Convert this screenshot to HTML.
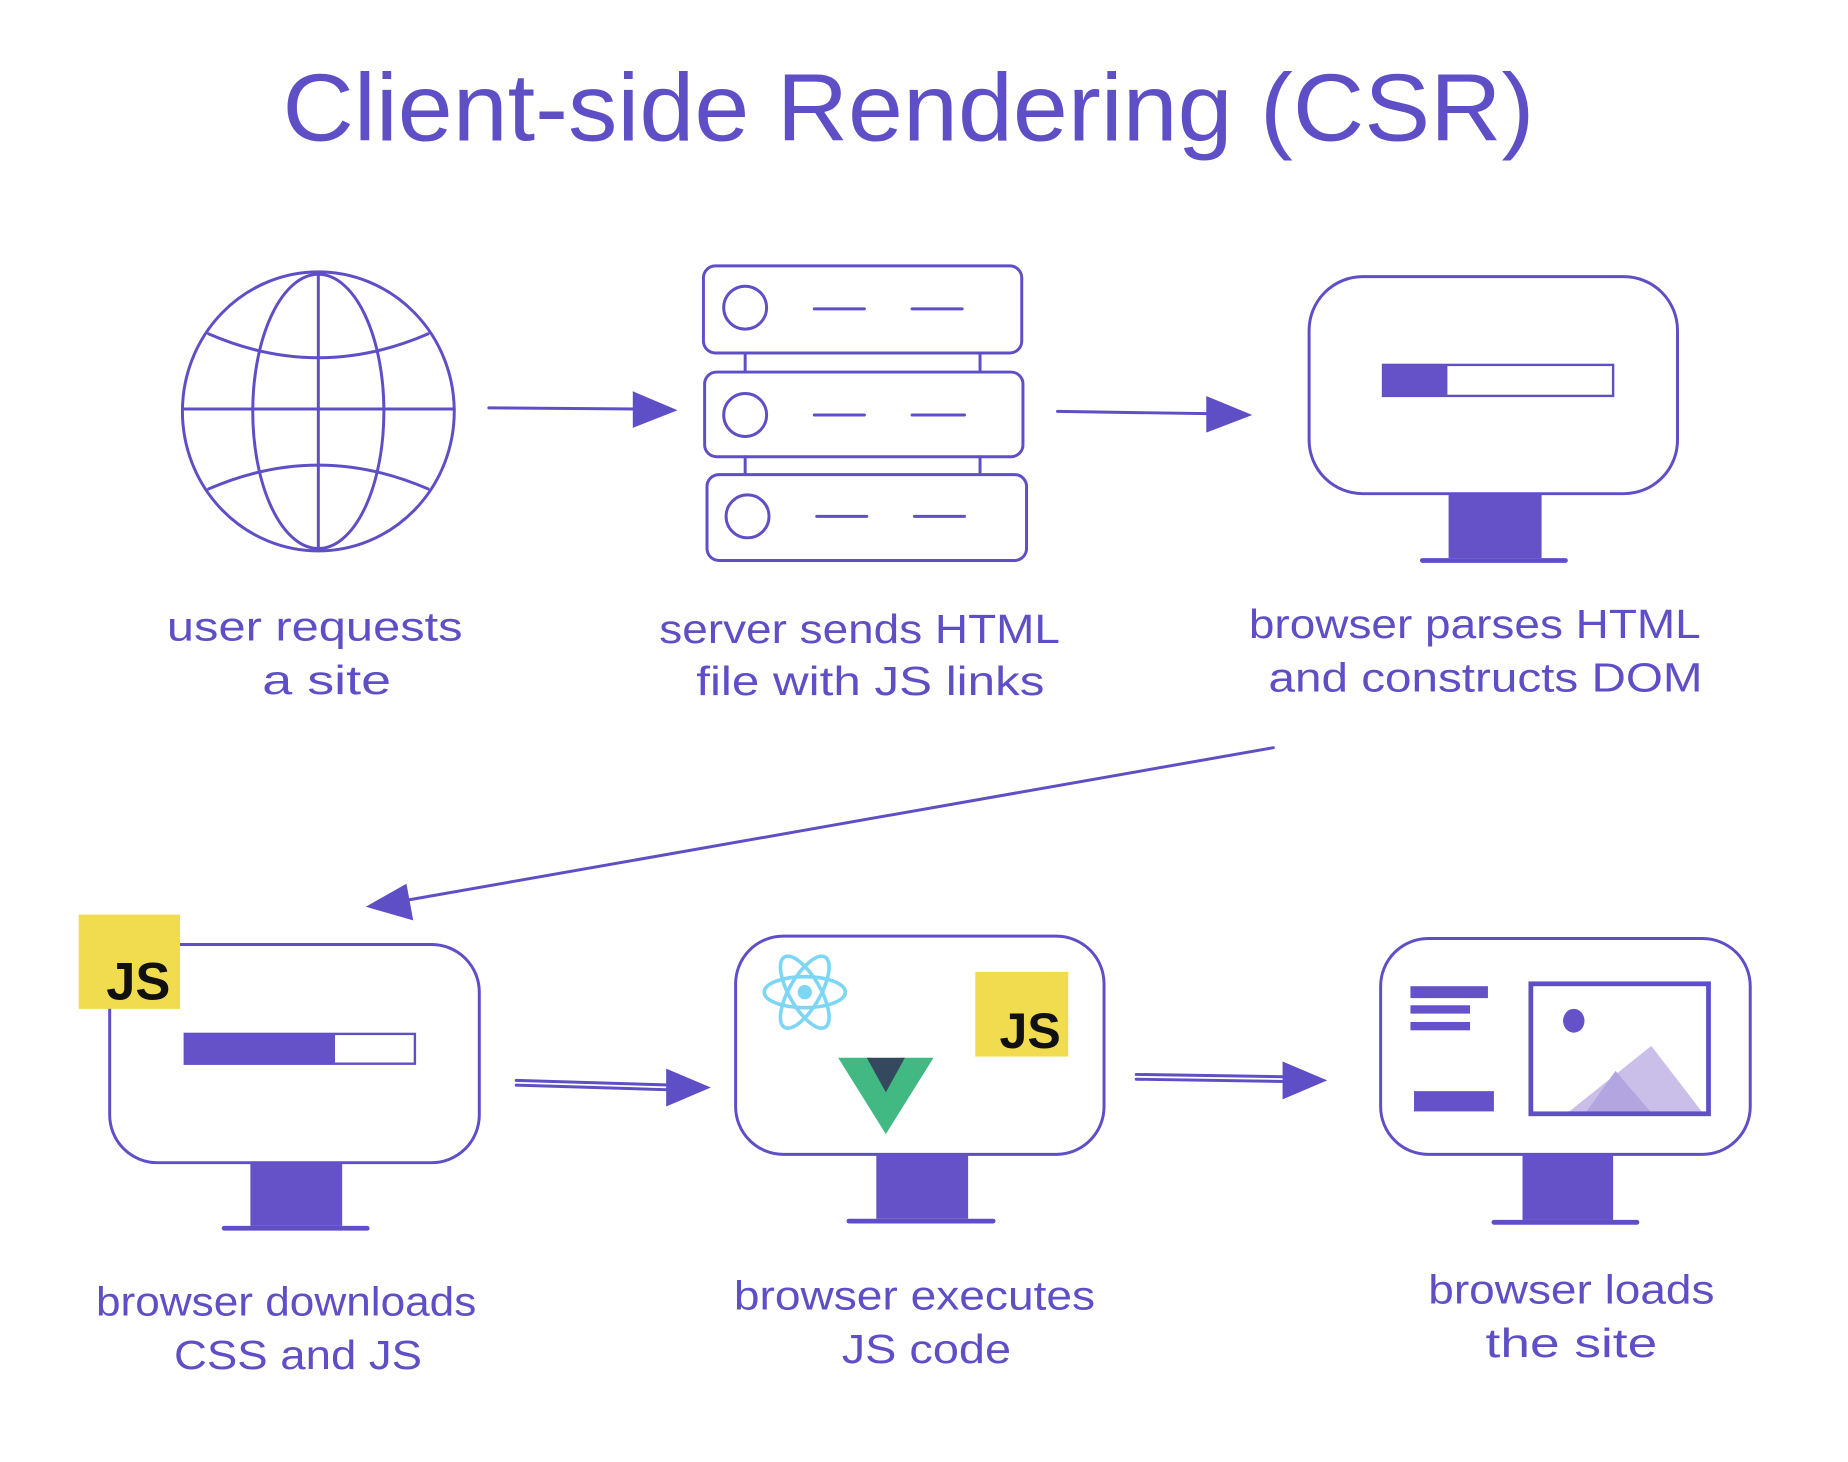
<!DOCTYPE html>
<html><head><meta charset="utf-8"><style>
html,body{margin:0;padding:0;background:#fff;}
svg{display:block;}
text{font-family:"Liberation Sans",sans-serif;fill:#5f4fc6;}
</style></head><body>
<svg width="1848" height="1462" viewBox="0 0 1550 1226" preserveAspectRatio="none" xmlns="http://www.w3.org/2000/svg">
<g stroke="#5f4fc6" fill="none" stroke-width="2.5" stroke-linecap="round">
<text x="762" y="118" text-anchor="middle" font-size="80" textLength="1050" lengthAdjust="spacingAndGlyphs" stroke="none">Client-side Rendering (CSR)</text>

<ellipse cx="267" cy="345" rx="114" ry="117"/>
<ellipse cx="267" cy="345" rx="55" ry="115"/>
<line x1="267" y1="230" x2="267" y2="462"/>
<line x1="153" y1="343" x2="381" y2="343"/>
<path d="M175 280 Q267 320 359 280"/>
<path d="M175 410 Q267 370 359 410"/>

<line x1="410" y1="342" x2="540" y2="343"/>
<polygon points="532,330 565,344 532,357" fill="#5f4fc6"/>

<rect x="590" y="223" width="267" height="73" rx="10"/>
<rect x="591" y="312" width="267" height="71" rx="10"/>
<rect x="593" y="398" width="268" height="72" rx="10"/>
<line x1="625" y1="296" x2="625" y2="312"/><line x1="822" y1="296" x2="822" y2="312"/>
<line x1="625" y1="383" x2="625" y2="398"/><line x1="822" y1="383" x2="822" y2="398"/>
<circle cx="625" cy="258" r="18"/><circle cx="625" cy="348" r="18"/><circle cx="627" cy="433" r="18"/>
<line x1="683" y1="259" x2="725" y2="259"/><line x1="765" y1="259" x2="807" y2="259"/>
<line x1="683" y1="348" x2="725" y2="348"/><line x1="765" y1="348" x2="809" y2="348"/>
<line x1="685" y1="433" x2="727" y2="433"/><line x1="767" y1="433" x2="809" y2="433"/>

<line x1="887" y1="345" x2="1020" y2="347"/>
<polygon points="1013,334 1047,348 1013,361" fill="#5f4fc6"/>

<rect x="1098" y="232" width="309" height="182" rx="45"/>
<rect x="1215" y="414" width="78" height="54" fill="#6552c8" stroke="none"/>
<line x1="1193" y1="470" x2="1313" y2="470" stroke-width="4"/>
<rect x="1160" y="306" width="193" height="26" stroke-width="2"/>
<rect x="1160" y="306" width="54" height="26" fill="#6552c8" stroke="none"/>

<line x1="1068" y1="627" x2="335" y2="756"/>
<polygon points="310,760 340,743 345,770" fill="#5f4fc6"/>

<rect x="92" y="792" width="310" height="183" rx="40"/>
<rect x="210" y="975" width="77" height="53" fill="#6552c8" stroke="none"/>
<line x1="188" y1="1030" x2="308" y2="1030" stroke-width="4"/>
<rect x="155" y="867" width="193" height="25" stroke-width="2"/>
<rect x="155" y="867" width="126" height="25" fill="#6552c8" stroke="none"/>
<rect x="66" y="767" width="85" height="79" fill="#f0dc4e" stroke="none"/>
<text x="116" y="838" text-anchor="middle" font-size="44" font-weight="bold" stroke="none" style="fill:#111">JS</text>

<line x1="433" y1="906" x2="565" y2="910"/>
<line x1="433" y1="910" x2="565" y2="914"/>
<polygon points="560,898 593,912 560,926" fill="#5f4fc6"/>

<rect x="617" y="785" width="309" height="183" rx="40"/>
<rect x="735" y="968" width="77" height="54" fill="#6552c8" stroke="none"/>
<line x1="712" y1="1024" x2="833" y2="1024" stroke-width="4"/>
<g stroke="#7dd6f4" stroke-width="3">
<ellipse cx="675" cy="832" rx="34" ry="13"/>
<ellipse cx="675" cy="832" rx="34" ry="13" transform="rotate(60 675 832)"/>
<ellipse cx="675" cy="832" rx="34" ry="13" transform="rotate(-60 675 832)"/>
</g>
<circle cx="675" cy="832" r="6" fill="#7dd6f4" stroke="none"/>
<rect x="818" y="815" width="78" height="71" fill="#f0dc4e" stroke="none"/>
<text x="864" y="879" text-anchor="middle" font-size="42" font-weight="bold" stroke="none" style="fill:#111">JS</text>
<polygon points="703,887 730,887 743,910 756,887 783,887 743,951" fill="#42b883" stroke="none"/>
<polygon points="727,887 743,887 759,887 743,916" fill="#35495e" stroke="none"/>

<line x1="953" y1="901" x2="1082" y2="903"/>
<line x1="953" y1="905" x2="1082" y2="907"/>
<polygon points="1077,892 1110,906 1077,920" fill="#5f4fc6"/>

<rect x="1158" y="787" width="310" height="181" rx="40"/>
<rect x="1277" y="968" width="76" height="55" fill="#6552c8" stroke="none"/>
<line x1="1253" y1="1025" x2="1373" y2="1025" stroke-width="4"/>
<g fill="#6552c8" stroke="none">
<rect x="1183" y="827" width="65" height="10"/>
<rect x="1183" y="843" width="50" height="7"/>
<rect x="1183" y="857" width="50" height="7"/>
<rect x="1186" y="915" width="67" height="17"/>
<ellipse cx="1320" cy="856" rx="9" ry="10"/>
</g>
<polygon points="1315,933 1385,877 1428,933" fill="#c9bfe8" stroke="none"/>
<polygon points="1330,933 1355,898 1385,933" fill="#b3a6e0" stroke="none"/>
<rect x="1284" y="825" width="149" height="109" stroke-width="4"/>
</g>

<g font-size="34" text-anchor="middle" lengthAdjust="spacingAndGlyphs">
<text x="264" y="537" textLength="248" lengthAdjust="spacingAndGlyphs">user requests</text>
<text x="274" y="582" textLength="108" lengthAdjust="spacingAndGlyphs">a site</text>
<text x="721" y="539" textLength="336" lengthAdjust="spacingAndGlyphs">server sends HTML</text>
<text x="730" y="583" textLength="292" lengthAdjust="spacingAndGlyphs">file with JS links</text>
<text x="1237" y="535" textLength="379" lengthAdjust="spacingAndGlyphs">browser parses HTML</text>
<text x="1246" y="580" textLength="364" lengthAdjust="spacingAndGlyphs">and constructs DOM</text>
<text x="240" y="1103" textLength="319" lengthAdjust="spacingAndGlyphs">browser downloads</text>
<text x="250" y="1148" textLength="208" lengthAdjust="spacingAndGlyphs">CSS and JS</text>
<text x="767" y="1098" textLength="303" lengthAdjust="spacingAndGlyphs">browser executes</text>
<text x="777" y="1143" textLength="142" lengthAdjust="spacingAndGlyphs">JS code</text>
<text x="1318" y="1093" textLength="240" lengthAdjust="spacingAndGlyphs">browser loads</text>
<text x="1318" y="1138" textLength="144" lengthAdjust="spacingAndGlyphs">the site</text>
</g>
</svg>
</body></html>
